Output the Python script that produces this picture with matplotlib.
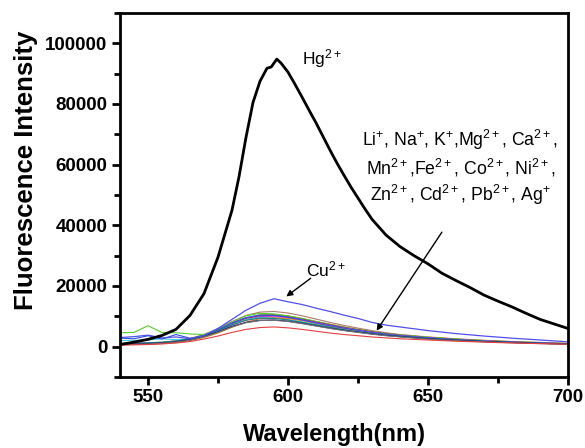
import matplotlib
matplotlib.use("Agg")
import matplotlib.pyplot as plt
from matplotlib.ticker import MultipleLocator

plt.rcParams['font.family'] = ['Liberation Sans', 'DejaVu Sans']
plt.rcParams['mathtext.fontset'] = 'custom'
plt.rcParams['mathtext.rm'] = 'Liberation Sans'
plt.rcParams['mathtext.it'] = 'Liberation Sans'
plt.rcParams['mathtext.bf'] = 'Liberation Sans:bold'

# Hg2+ spectrum (finer grid around the peak)
hg_wl = [540, 545, 550, 555, 560, 565, 570, 575, 580, 582.5, 585, 587.5, 590, 592.5,
         594, 596, 597.5, 600, 602.5, 605, 607.5, 610, 612.5, 615, 617.5, 620, 622.5,
         625, 627.5, 630, 635, 640, 645, 650, 655, 660, 665, 670, 675, 680, 685, 690, 695, 700]
hg = [700, 1500, 2400, 3700, 5700, 10300, 17500, 29500, 45000, 56000, 69000, 80500, 87500, 91800,
      92200, 94800, 93500, 90500, 86500, 82300, 78000, 73800, 69300, 64800, 60500, 56500, 52600,
      49000, 45400, 42000, 36800, 33000, 30000, 27300, 24200, 21800, 19500, 17000, 15000, 13100,
      11000, 9000, 7500, 6000]

# common grid for the other ions
wl = [540, 545, 550, 555, 560, 565, 570, 575, 580, 585, 590, 595, 600, 605, 610, 615,
      620, 625, 630, 635, 640, 650, 660, 670, 680, 690, 700]

cu = [3000, 3300, 3800, 2900, 3200, 2600, 3600, 6000, 9000, 12000, 14300, 15800, 14800, 13900,
      12700, 11600, 10400, 9300, 8000, 7100, 6500, 5300, 4300, 3500, 2800, 2200, 1600]
green = [4600, 4700, 6900, 4700, 4600, 4200, 4000, 5600, 8000, 10200, 11000, 10800, 10200, 9300,
         8300, 7300, 6400, 5600, 4900, 4300, 3800, 3100, 2500, 2000, 1600, 1300, 1000]
blue = [2800, 2600, 3600, 2500, 4000, 2800, 3400, 5500, 7800, 9600, 10400, 10300, 9700, 8800,
        7800, 6900, 6100, 5400, 4700, 4100, 3600, 2900, 2300, 1800, 1500, 1200, 900]
cyan = [2000, 2100, 2200, 2600, 2300, 2500, 3600, 5200, 7300, 8900, 9600, 9500, 9000, 8200,
        7300, 6500, 5800, 5100, 4500, 4000, 3500, 2800, 2200, 1800, 1400, 1100, 900]
red = [500, 600, 700, 900, 1200, 1700, 2500, 3500, 4700, 5700, 6300, 6500, 6200, 5700,
       5100, 4500, 4000, 3600, 3200, 2900, 2600, 2200, 1800, 1500, 1200, 1000, 800]
brown = [900, 1000, 1100, 1300, 1800, 2600, 4000, 6000, 8300, 10300, 11400, 11600, 11100, 10200,
         9100, 8000, 7000, 6100, 5300, 4600, 4000, 3200, 2600, 2100, 1700, 1400, 1100]
magenta = [700, 800, 900, 1100, 1500, 2200, 3300, 5000, 7100, 8800, 9700, 9900, 9500, 8700,
           7800, 6900, 6100, 5400, 4700, 4100, 3600, 2900, 2300, 1900, 1500, 1200, 1000]
navy = [800, 900, 1000, 1200, 1600, 2300, 3400, 4900, 6700, 8000, 8700, 8800, 8400, 7700,
        6900, 6100, 5400, 4800, 4200, 3700, 3300, 2600, 2100, 1700, 1400, 1100, 900]
olive = [1000, 1100, 1200, 1400, 1900, 2700, 3900, 5700, 7800, 9500, 10500, 10600, 10100, 9300,
         8300, 7400, 6500, 5700, 5000, 4400, 3900, 3100, 2500, 2000, 1600, 1300, 1000]
orange = [600, 700, 800, 1000, 1400, 2000, 3000, 4500, 6400, 8100, 9200, 9500, 9300, 8600,
          7700, 6800, 6000, 5300, 4600, 4000, 3500, 2800, 2200, 1800, 1400, 1100, 900]
teal = [1100, 1200, 1300, 1500, 1900, 2600, 3700, 5300, 7200, 8700, 9400, 9300, 8800, 8000,
        7200, 6400, 5600, 4900, 4300, 3800, 3400, 2700, 2200, 1800, 1400, 1100, 900]
purple = [900, 1000, 1100, 1300, 1700, 2500, 3600, 5300, 7300, 8900, 9900, 10100, 9700, 8900,
          8000, 7100, 6200, 5500, 4800, 4200, 3700, 2900, 2300, 1900, 1500, 1200, 1000]
gray = [700, 800, 900, 1100, 1500, 2100, 3200, 4700, 6500, 7900, 8600, 8700, 8300, 7600,
        6800, 6000, 5300, 4700, 4100, 3600, 3200, 2500, 2000, 1600, 1300, 1000, 800]
wine = [800, 900, 1000, 1200, 1600, 2400, 3700, 5500, 7600, 9300, 10200, 10300, 9800, 9000,
        8100, 7200, 6300, 5500, 4800, 4200, 3700, 2900, 2300, 1900, 1500, 1200, 900]

others = [
    (brown, '#B07A6A'), (olive, '#8A8A2A'), (green, '#55CC33'), (wine, '#A03050'),
    (purple, '#8040C0'), (magenta, '#E040E0'), (cyan, '#40C8D8'), (orange, '#E08020'),
    (blue, '#3050E0'), (teal, '#208080'), (navy, '#101070'), (gray, '#707070'),
    (red, '#E04040'),
]

fig = plt.figure(figsize=(5.85, 4.48), dpi=100)
ax = fig.add_axes([120 / 585, 1 - 377 / 448, 448 / 585, 364 / 448])

for vals, col in others:
    ax.plot(wl, vals, color=col, lw=0.8)
ax.plot(wl, cu, color='#5050E8', lw=0.9)
ax.plot(hg_wl, hg, color='black', lw=2)

ax.set_xlim(540, 700)
ax.set_ylim(-10000, 110000)
ax.set_xticks([550, 600, 650, 700])
ax.set_yticks([0, 20000, 40000, 60000, 80000, 100000])
ax.xaxis.set_minor_locator(MultipleLocator(25))
ax.yaxis.set_minor_locator(MultipleLocator(10000))
for s in ax.spines.values():
    s.set_linewidth(2)
ax.tick_params(which='major', direction='out', length=6, width=2, labelsize=13.5, pad=3)
ax.tick_params(which='minor', direction='out', length=4, width=2)
for lab in ax.get_xticklabels() + ax.get_yticklabels():
    lab.set_fontweight('bold')

fig.text(26 / 585, 1 - 170 / 448, 'Fluorescence Intensity', rotation=90, ha='center',
         va='center', fontsize=18.5, fontweight='bold')
fig.text(334 / 585, 1 - 434 / 448, 'Wavelength(nm)', ha='center', va='center',
         fontsize=17, fontweight='bold')

ax.text(605, 95000, r'Hg$^{2+}$', fontsize=12.5, ha='left', va='center')
ax.text(613.5, 25300, r'Cu$^{2+}$', fontsize=12.5, ha='center', va='center')
ax.text(661.5, 68300, r'Li$^{+}$, Na$^{+}$, K$^{+}$,Mg$^{2+}$, Ca$^{2+}$,', fontsize=12.7,
        ha='center', va='center')
ax.text(661.5, 59000, r'Mn$^{2+}$,Fe$^{2+}$, Co$^{2+}$, Ni$^{2+}$,', fontsize=12.7,
        ha='center', va='center')
ax.text(661.5, 50000, r'Zn$^{2+}$, Cd$^{2+}$, Pb$^{2+}$, Ag$^{+}$', fontsize=12.7,
        ha='center', va='center')

ax.annotate('', xy=(598.6, 16000), xytext=(608.9, 23100),
            arrowprops=dict(arrowstyle='-|>', color='black', lw=1, mutation_scale=9))
ax.annotate('', xy=(631.1, 4500), xytext=(655.5, 38500),
            arrowprops=dict(arrowstyle='-|>', color='black', lw=1, mutation_scale=9))

fig.savefig('out.png', dpi=100)
